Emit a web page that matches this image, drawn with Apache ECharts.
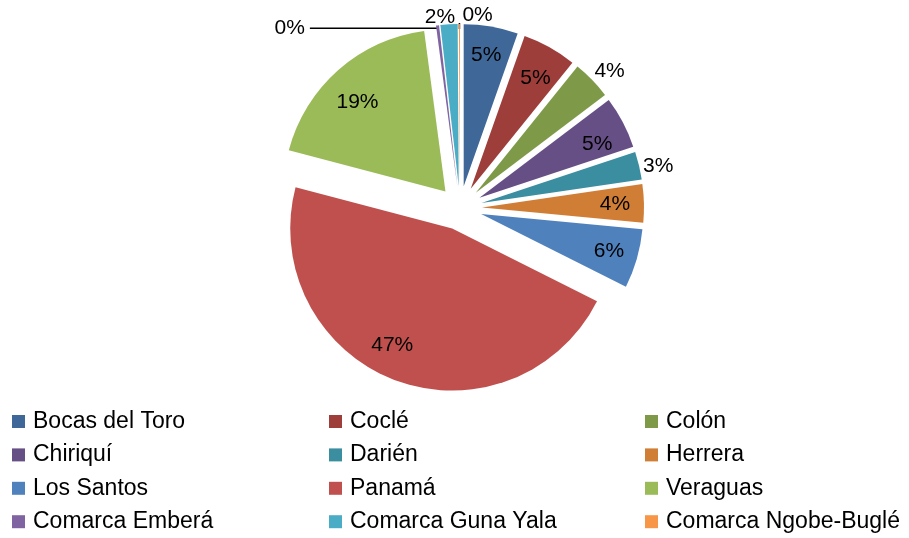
<!DOCTYPE html>
<html>
<head>
<meta charset="utf-8">
<script src="https://cdn.jsdelivr.net/npm/echarts@6/dist/echarts.min.js"></script>
<style>
  html, body { margin: 0; padding: 0; background: #fff; }
  #chart { width: 909px; height: 538px; }
</style>
</head>
<body>
<div id="chart"></div>
<script>
  // provincias y comarcas, en el orden del gráfico (desde las 12 en sentido horario)
  const categories = ['Bocas del Toro', 'Coclé', 'Colón', 'Chiriquí', 'Darién', 'Herrera',
    'Los Santos', 'Panamá', 'Veraguas', 'Comarca Emberá', 'Comarca Guna Yala', 'Comarca Ngobe-Buglé']
  // participación en %
  const shares = [5.4, 5.4, 3.9, 5.2, 2.8, 3.8, 5.9, 46.7, 18.8, 0.3, 1.7, 0.1]
  const sliceColors = ['#3F6898', '#9E3E3B', '#7E9A48', '#664F85', '#3B8DA0', '#D07E36',
    '#4F81BD', '#C0504D', '#9BBB59', '#8064A2', '#4BACC6', '#F79646']
  // etiquetas dentro de la porción; el resto va afuera
  const insideLabels = ['Bocas del Toro', 'Coclé', 'Chiriquí', 'Herrera', 'Los Santos', 'Panamá', 'Veraguas']
  // pequeños ajustes de etiquetas (como en el original de Excel)
  const labelNudge = {
    'Coclé': { dy: 6 },
    'Colón': { dx: -2, dy: -9 },
    'Chiriquí': { dy: 8 },
    'Panamá': { dx: -13, dy: -8 },
    'Veraguas': { dy: 10 },
    'Comarca Guna Yala': { dx: 11, dy: -8 },
    'Comarca Ngobe-Buglé': { dx: 8, dy: -8, align: 'left' }
  }

  const chart = echarts.init(document.getElementById('chart'))
  const font = 'Liberation Sans, Arial, sans-serif'
  const center = [460, 208]
  const clear = 'rgba(0,0,0,0)'
  const blackLine = { color: '#000', width: 1.5 }

  let sliceData = categories.map((name, i) => ({
    name: name,
    value: shares[i],
    selected: true,
    itemStyle: { color: sliceColors[i] }
  }))
  // anillo transparente para ubicar las etiquetas
  let labelData = categories.map((name, i) => {
    let item = { name: name, value: shares[i], selected: true, itemStyle: { color: clear } }
    if (insideLabels.indexOf(name) >= 0) {
      item.label = { position: 'inside' }
    } else {
      item.label = { position: 'outside' }
    }
    if (name === 'Comarca Emberá') {
      item.labelLine = { show: true, length: 2, length2: 128, lineStyle: blackLine }
    }
    if (name === 'Comarca Ngobe-Buglé') {
      item.labelLine = { show: true, length: 6, length2: 0, lineStyle: blackLine }
    }
    return item
  })

  const legendCols = [0, 1, 2].map(c => categories.filter((n, i) => i % 3 === c))
  const legendLeft = [12, 329, 645]

  let option = {
    animation: false,
    legend: legendCols.map((col, c) => ({
      orient: 'vertical',
      left: legendLeft[c],
      top: 410,
      padding: 0,
      itemWidth: 13,
      itemHeight: 13,
      itemGap: 10.4,
      icon: 'rect',
      selectedMode: false,
      textStyle: { fontFamily: font, fontSize: 23, color: '#000', padding: [0, 0, 0, 3] },
      data: col.map(name => ({
        name: name,
        itemStyle: { color: sliceColors[categories.indexOf(name)], opacity: 1 }
      }))
    })),
    series: [
      {
        type: 'pie',
        center: center,
        radius: [0, 162],
        startAngle: 90,
        clockwise: true,
        selectedMode: 'multiple',
        selectedOffset: 22,
        silent: true,
        label: { show: false },
        labelLine: { show: false },
        select: { itemStyle: { borderWidth: 0 } },
        data: sliceData
      },
      {
        type: 'pie',
        center: center,
        radius: [103, 157],
        startAngle: 90,
        clockwise: true,
        selectedMode: 'multiple',
        selectedOffset: 22,
        silent: true,
        avoidLabelOverlap: false,
        label: {
          show: true,
          color: '#000',
          fontFamily: font,
          fontSize: 21,
          formatter: p => Math.round(p.value) + '%'
        },
        labelLine: { show: false, length: 4, length2: 0 },
        labelLayout: function (p) {
          return labelNudge[categories[p.dataIndex]]
        },
        select: { itemStyle: { borderWidth: 0 } },
        data: labelData
      }
    ]
  }
  chart.setOption(option)
</script>
</body>
</html>
